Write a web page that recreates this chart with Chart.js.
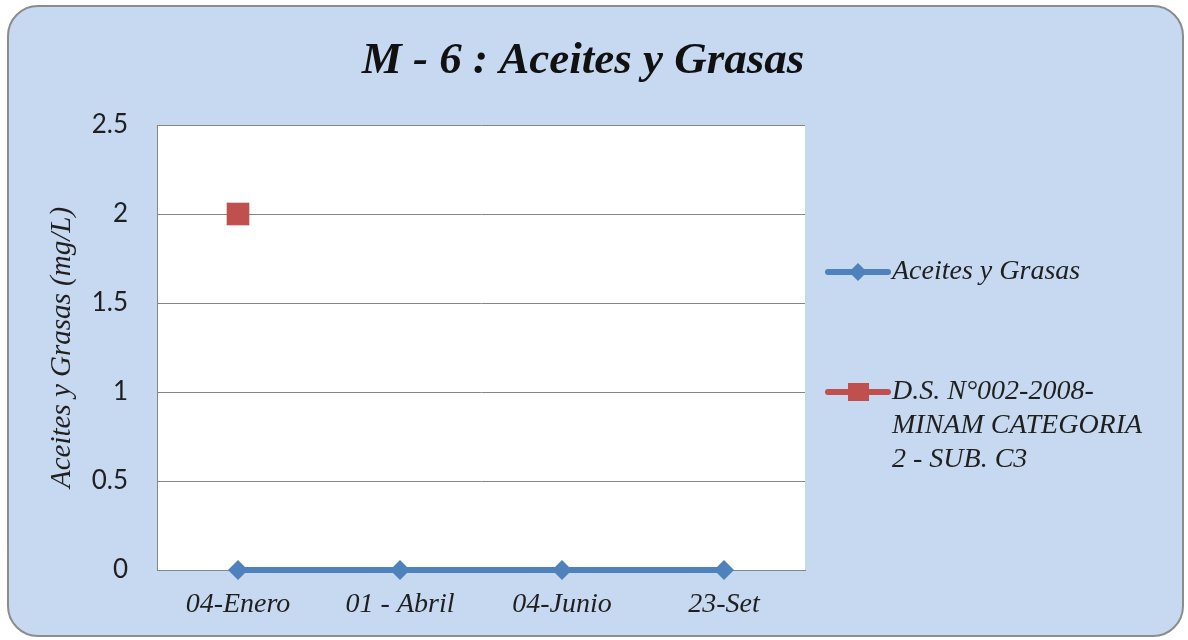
<!DOCTYPE html>
<html>
<head>
<meta charset="utf-8">
<script src="https://cdn.jsdelivr.net/npm/chart.js@4.4.1/dist/chart.umd.min.js"></script>
<style>
  html, body { margin: 0; padding: 0; background: #ffffff; }
  #wrap { width: 1188px; height: 640px; position: relative; }
</style>
</head>
<body>
<div id="wrap"><canvas id="c" width="1188" height="640"></canvas></div>
<script>
// Sampling dates (x categories)
const fechas = ['04-Enero', '01 - Abril', '04-Junio', '23-Set'];
// Measured oil & grease values (mg/L)
const aceitesGrasas = [0, 0, 0, 0];
// Regulatory limit D.S. N°002-2008-MINAM, category 2 - sub. C3 (mg/L)
const limiteNorma = [2, null, null, null];
// Series names (legend lines)
const nombreSerie1 = ['Aceites y Grasas'];
const nombreSerie2 = ['D.S. N°002-2008-', 'MINAM CATEGORIA', '2 - SUB. C3'];
// Y axis ticks
const yTicks = [0, 0.5, 1, 1.5, 2, 2.5];
const tituloGrafico = 'M - 6 : Aceites y Grasas';

const AZUL = '#4F81BD';
const ROJO = '#C0504D';
const SERIF = '"Liberation Serif", "Times New Roman", serif';

// Rounded panel background, white plot area and the chart title
const panelPlugin = {
  id: 'panel',
  beforeDraw(chart) {
    const ctx = chart.ctx;
    const { left, top, right, bottom } = chart.chartArea;
    ctx.save();
    const x = 8, y = 6, w = 1175, h = 630, r = 30;
    ctx.beginPath();
    ctx.moveTo(x + r, y);
    ctx.lineTo(x + w - r, y);
    ctx.arcTo(x + w, y, x + w, y + r, r);
    ctx.lineTo(x + w, y + h - r);
    ctx.arcTo(x + w, y + h, x + w - r, y + h, r);
    ctx.lineTo(x + r, y + h);
    ctx.arcTo(x, y + h, x, y + h - r, r);
    ctx.lineTo(x, y + r);
    ctx.arcTo(x, y, x + r, y, r);
    ctx.closePath();
    ctx.fillStyle = '#C6D9F0';
    ctx.fill();
    ctx.lineWidth = 2;
    ctx.strokeStyle = '#8C8C8C';
    ctx.stroke();
    ctx.fillStyle = '#FFFFFF';
    ctx.fillRect(left, top, right - left, bottom - top);

    ctx.fillStyle = '#111111';
    ctx.font = 'italic bold 45px ' + SERIF;
    ctx.textAlign = 'center';
    ctx.textBaseline = 'alphabetic';
    ctx.fillText(tituloGrafico, 583, 73);
    ctx.restore();
  }
};

// Legend on the right, drawn from the datasets
const sideLegend = {
  id: 'sideLegend',
  afterDraw(chart) {
    const ctx = chart.ctx;
    const entries = [
      { ds: chart.data.datasets[0], y: 272 },
      { ds: chart.data.datasets[1], y: 392 }
    ];
    ctx.save();
    entries.forEach(e => {
      const ds = e.ds;
      ctx.strokeStyle = ds.borderColor;
      ctx.lineWidth = 6;
      ctx.lineCap = 'round';
      ctx.beginPath();
      ctx.moveTo(828, e.y);
      ctx.lineTo(888, e.y);
      ctx.stroke();
      ctx.fillStyle = ds.pointBackgroundColor;
      if (ds.pointStyle === 'rectRot') {
        ctx.beginPath();
        ctx.moveTo(858, e.y - 9);
        ctx.lineTo(867, e.y);
        ctx.lineTo(858, e.y + 9);
        ctx.lineTo(849, e.y);
        ctx.closePath();
        ctx.fill();
      } else {
        ctx.fillRect(848, e.y - 9, 21, 18);
      }
      ctx.fillStyle = '#1F1F1F';
      ctx.font = 'italic 28px ' + SERIF;
      ctx.textAlign = 'left';
      ctx.textBaseline = 'middle';
      const lines = Array.isArray(ds.label) ? ds.label : [ds.label];
      lines.forEach((t, i) => ctx.fillText(t, 892, e.y + i * 34));
    });
    ctx.restore();
  }
};

new Chart(document.getElementById('c'), {
  type: 'line',
  data: {
    labels: fechas,
    datasets: [
      {
        label: nombreSerie1,
        data: aceitesGrasas,
        borderColor: AZUL,
        backgroundColor: AZUL,
        pointBackgroundColor: AZUL,
        pointBorderColor: AZUL,
        borderWidth: 6,
        pointStyle: 'rectRot',
        pointRadius: 10,
        pointBorderWidth: 0,
        clip: false,
        tension: 0
      },
      {
        label: nombreSerie2,
        data: limiteNorma,
        borderColor: ROJO,
        backgroundColor: ROJO,
        pointBackgroundColor: ROJO,
        pointBorderColor: ROJO,
        borderWidth: 6,
        pointStyle: 'rect',
        pointRadius: 16,
        pointBorderWidth: 0,
        clip: false,
        spanGaps: false
      }
    ]
  },
  options: {
    responsive: false,
    animation: false,
    events: [],
    layout: { padding: { left: 0, top: 125, right: 383, bottom: 0 } },
    plugins: {
      legend: { display: false },
      tooltip: { enabled: false },
      title: { display: false }
    },
    scales: {
      x: {
        offset: true,
        grid: { display: false, drawTicks: false },
        border: { display: true, color: '#868686', width: 1 },
        ticks: {
          color: '#1F1F1F',
          padding: 18,
          font: { family: SERIF, size: 28, style: 'italic' }
        },
        afterFit(scale) { scale.height = 70; }
      },
      y: {
        min: 0,
        max: 2.5,
        afterBuildTicks(scale) { scale.ticks = yTicks.map(v => ({ value: v })); },
        grid: { color: '#868686', lineWidth: 1, drawTicks: false },
        border: { display: true, color: '#868686', width: 1 },
        ticks: {
          color: '#1F1F1F',
          padding: 29,
          font: { family: 'Lato, "Open Sans", sans-serif', size: 26 },
          callback: v => String(v)
        },
        title: {
          display: true,
          text: 'Aceites y Grasas (mg/L)',
          color: '#1F1F1F',
          font: { family: SERIF, size: 29, style: 'italic', lineHeight: 1.2 },
          padding: { top: 45, bottom: 0 }
        },
        afterFit(scale) { scale.width = 157; }
      }
    }
  },
  plugins: [panelPlugin, sideLegend]
});
</script>
</body>
</html>
